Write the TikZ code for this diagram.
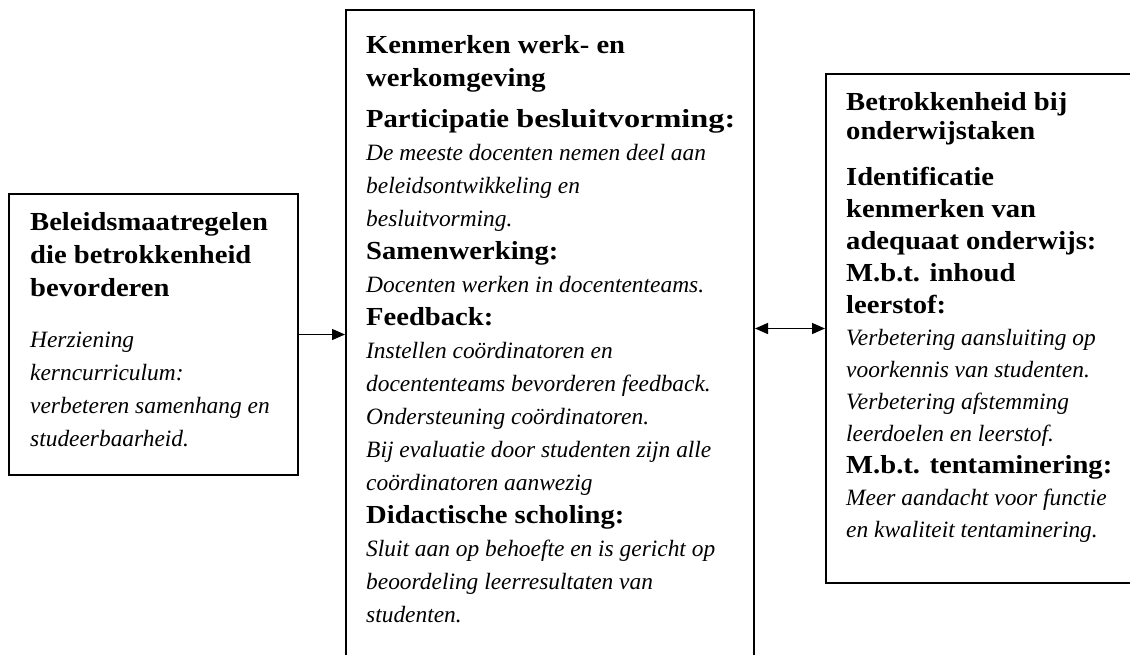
\documentclass[tikz,border=0pt]{standalone}
\usepackage{fontspec}
\usepackage{graphicx}
\setmainfont{Liberation Serif}
\newfontfamily\hdfam[FakeStretch=1.10]{Liberation Serif}
\usetikzlibrary{arrows.meta}
\newcommand\hd[1]{{\hdfam\fontsize{26}{33}\selectfont\bfseries #1}}
\newcommand\tx[1]{{\fontsize{23.4}{33}\selectfont\itshape #1}}
\newcommand\st{\rule{0pt}{24pt}}
\begin{document}
\begin{tikzpicture}[x=1pt,y=-1pt,
  box/.style={draw, line width=2pt, rectangle, inner sep=0pt, anchor=north west},
  txt/.style={anchor=north west, inner sep=0pt, align=left},
  arr/.style={line width=1.4pt, -{Triangle[length=13pt,width=11pt]}},
  darr/.style={line width=1.4pt, {Triangle[length=13pt,width=11pt]}-{Triangle[length=13pt,width=11pt]}}]
\useasboundingbox (0,0) rectangle (1130,654);
\fill[white] (0,0) rectangle (1130,654);
\node[box, minimum width=289pt, minimum height=281pt] (L) at (8,193) {};
\node[box, minimum width=408pt, minimum height=680pt] (M) at (345,9) {};
\node[box, minimum width=330pt, minimum height=509pt] (R) at (825,73) {};
\node[txt, font=\fontsize{23.4}{33}\selectfont] (Lt) at (30,206) {\st\hd{Beleidsmaatregelen}\\
\hd{die betrokkenheid}\\
\hd{bevorderen}\\[18pt]
\tx{Herziening}\\
\tx{kerncurriculum:}\\
\tx{verbeteren samenhang en}\\
\tx{studeerbaarheid.}};
\node[txt, font=\fontsize{23.4}{33}\selectfont] (Mt) at (366,29) {\st\hd{Kenmerken werk- en}\\
\hd{werkomgeving}\\[8pt]
\hd{Participatie \scalebox{1.13}[1]{besluitvorming:}}\\
\tx{De meeste docenten nemen deel aan}\\
\tx{beleidsontwikkeling en}\\
\tx{besluitvorming.}\\
\hd{Samenwerking:}\\
\tx{Docenten werken in docententeams.}\\
\hd{Feedback:}\\
\tx{Instellen coördinatoren en}\\
\tx{docententeams bevorderen feedback.}\\
\tx{Ondersteuning coördinatoren.}\\
\tx{Bij evaluatie door studenten zijn alle}\\
\tx{coördinatoren aanwezig}\\
\hd{Didactische scholing:}\\
\tx{Sluit aan op behoefte en is gericht op}\\
\tx{beoordeling leerresultaten van}\\
\tx{studenten.}};
\node[txt, font=\fontsize{23.4}{32}\selectfont] (Rt) at (846,86) {\st\hd{Betrokkenheid bij}\\[-3pt]
\hd{onderwijstaken}\\[14pt]
\hd{Identificatie}\\
\hd{kenmerken van}\\
\hd{adequaat onderwijs:}\\
\hd{M.b.t. inhoud}\\
\hd{leerstof:}\\
\tx{Verbetering aansluiting op}\\
\tx{voorkennis van studenten.}\\
\tx{Verbetering afstemming}\\
\tx{leerdoelen en leerstof.}\\
\hd{M.b.t. tentaminering:}\\
\tx{Meer aandacht voor functie}\\
\tx{en kwaliteit tentaminering.}};
\draw[arr] (L.east) -- (L.east -| M.west);
\draw[darr] (R.west -| M.east) -- (R.west);
\end{tikzpicture}
\end{document}
